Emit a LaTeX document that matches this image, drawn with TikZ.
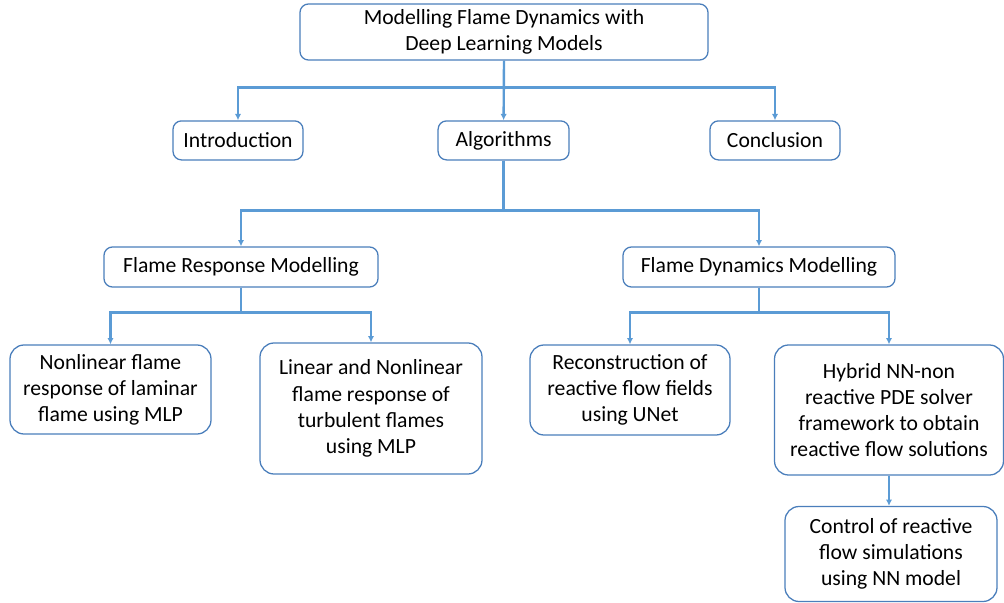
\documentclass[tikz,border=0pt]{standalone}
\usepackage{fontspec}
\setmainfont{Carlito}
\usepackage{tikz}
\usetikzlibrary{positioning,arrows.meta,calc}
\usepackage{xcolor}
\definecolor{edge}{HTML}{4A7EBB}
\definecolor{wire}{HTML}{5B9BD5}
\definecolor{ink}{HTML}{000000}

\tikzset{
  box/.style={draw=edge, line width=0.9pt, rounded corners=6pt, fill=white,
    align=center, inner sep=2pt, text=ink,
    font=\fontsize{15.4}{18.6}\selectfont},
  bigbox/.style={box, rounded corners=10pt},
  conn/.style={->, draw=wire, line width=1.7pt},
}

\begin{document}
\begin{tikzpicture}[>={Latex[length=4.5pt,width=4.5pt]}]
    \useasboundingbox (0,0) rectangle (25.1,-15.075);
    % top level
    \node[box, minimum width=10.2cm, minimum height=1.4cm] (top) at (12.6,-0.8)
      {Modelling Flame Dynamics with\\Deep Learning Models};
    \node[box, minimum width=3.25cm, minimum height=0.975cm] (intro) at (5.95,-3.51) {Introduction};
    \node[box, minimum width=3.275cm, minimum height=0.975cm] (algo) at (12.59,-3.51) {Algorithms};
    \node[box, minimum width=3.25cm, minimum height=0.975cm] (concl) at (19.375,-3.51) {Conclusion};
    \draw[conn] (top.south) -- ++(0,-0.675) -| (intro.north);
    \draw[conn] (top.south) -- ++(0,-0.675) -| (concl.north);
    \draw[conn] (top.south) -- (algo.north);
    % algorithms
    \node[box, minimum width=6.85cm, minimum height=1cm] (frm) at (6.025,-6.675) {Flame Response Modelling};
    \node[box, minimum width=6.8cm, minimum height=1cm] (fdm) at (18.975,-6.675) {Flame Dynamics Modelling};
    \draw[conn] (algo.south) -- ++(0,-1.25) -| (frm.north);
    \draw[conn] (algo.south) -- ++(0,-1.25) -| (fdm.north);
    % flame response
    \node[bigbox, minimum width=5.025cm, minimum height=2.225cm] (nlin) at (2.7625,-9.7375)
      {Nonlinear flame\\response of laminar\\flame using MLP};
    \node[bigbox, minimum width=5.55cm, minimum height=3.275cm] (lin) at (9.275,-10.2125)
      {Linear and Nonlinear\\flame response of\\turbulent flames\\using MLP};
    \draw[conn] (frm.south) -- ++(0,-0.625) -| (nlin.north);
    \draw[conn] (frm.south) -- ++(0,-0.625) -| (lin.north);
    % flame dynamics
    \node[bigbox, minimum width=5cm, minimum height=2.25cm] (recon) at (15.75,-9.75)
      {Reconstruction of\\reactive flow fields\\using UNet};
    \node[bigbox, minimum width=5.725cm, minimum height=3.25cm] (hybrid) at (22.225,-10.25)
      {Hybrid NN-non\\reactive PDE solver\\framework to obtain\\reactive flow solutions};
    \draw[conn] (fdm.south) -- ++(0,-0.625) -| (recon.north);
    \draw[conn] (fdm.south) -- ++(0,-0.625) -| (hybrid.north);
    \node[bigbox, minimum width=5.3cm, minimum height=2.375cm] (ctrl) at (22.275,-13.85)
      {Control of reactive\\flow simulations\\using NN model};
    \draw[conn] (hybrid.south) -- (hybrid.south |- ctrl.north);
\end{tikzpicture}
\end{document}
